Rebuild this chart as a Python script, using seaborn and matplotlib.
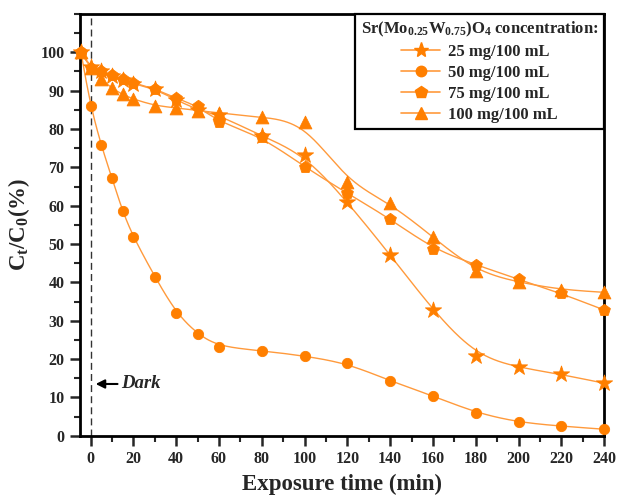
import numpy as np
import pandas as pd
import matplotlib
matplotlib.use("Agg")
import matplotlib.pyplot as plt
from matplotlib.lines import Line2D
from matplotlib.ticker import MultipleLocator
import seaborn as sns

# Exposure time (min); the first point is the initial solution before the dark step
time = [-4.5, 0, 5, 10, 15, 20, 30, 40, 50, 60, 80, 100, 120, 140, 160, 180, 200, 220, 240]

# C_t/C_0 (%) for each catalyst loading
c25 = [100, 96.2, 95.0, 93.9, 92.9, 91.8, 90.4, 87.6, 85.0, 83.6, 78.2, 73.3, 61.0, 47.2, 32.7, 20.9, 17.8, 16.0, 13.7]
c50 = [100, 86.0, 75.7, 67.2, 58.5, 51.8, 41.5, 32.0, 26.5, 23.2, 22.2, 20.8, 18.9, 14.3, 10.4, 6.0, 3.5, 2.5, 1.7]
c75 = [100, 96.0, 95.0, 94.0, 93.0, 92.0, 90.5, 88.0, 86.0, 81.8, 78.0, 70.1, 63.2, 56.6, 48.7, 44.6, 40.8, 37.1, 32.8]
c100 = [100, 96.0, 93.0, 90.6, 89.0, 87.8, 86.1, 85.5, 84.8, 84.2, 83.1, 81.7, 66.1, 60.7, 51.8, 42.9, 40.0, 38.1, 37.4]

labels = ["25 mg/100 mL", "50 mg/100 mL", "75 mg/100 mL", "100 mg/100 mL"]
series = [c25, c50, c75, c100]
markers = ["*", "o", "p", "^"]
sizes = [150, 55, 80, 85]

xticks = list(range(0, 241, 20))
yticks = list(range(0, 101, 10))

ORANGE = "#FF7F00"
LINE = "#FF9A3C"

sns.set_style("ticks")
plt.rcParams["font.family"] = ["Liberation Serif", "DejaVu Serif"]
plt.rcParams["font.weight"] = "bold"
plt.rcParams["mathtext.fontset"] = "custom"
plt.rcParams["mathtext.rm"] = "Liberation Serif:bold"
plt.rcParams["mathtext.it"] = "Liberation Serif:bold"
plt.rcParams["mathtext.bf"] = "Liberation Serif:bold"


def bspline(xs, ys, n=40):
    """Clamped uniform cubic B-spline using the data points as control points."""
    px = np.r_[[xs[0]] * 2, xs, [xs[-1]] * 2].astype(float)
    py = np.r_[[ys[0]] * 2, ys, [ys[-1]] * 2].astype(float)
    t = np.linspace(0, 1, n, endpoint=False)
    b0 = (1 - t) ** 3 / 6
    b1 = (3 * t**3 - 6 * t**2 + 4) / 6
    b2 = (-3 * t**3 + 3 * t**2 + 3 * t + 1) / 6
    b3 = t**3 / 6
    cx, cy = [], []
    for i in range(len(px) - 3):
        cx.append(b0 * px[i] + b1 * px[i + 1] + b2 * px[i + 2] + b3 * px[i + 3])
        cy.append(b0 * py[i] + b1 * py[i + 1] + b2 * py[i + 2] + b3 * py[i + 3])
    cx.append([xs[-1]])
    cy.append([ys[-1]])
    return np.concatenate(cx), np.concatenate(cy)


fig = plt.figure(figsize=(6.19, 4.98), dpi=100)
ax = fig.add_axes([0.129, 0.125, 0.847, 0.847])

for vals, lab, m, s in zip(series, labels, markers, sizes):
    sx, sy = bspline(np.array(time), np.array(vals))
    curve = pd.DataFrame({"t": sx, "c": sy})
    sns.lineplot(data=curve, x="t", y="c", ax=ax, color=LINE, lw=1.0,
                 sort=False, estimator=None, legend=False)
    pts = pd.DataFrame({"t": time, "c": vals})
    sns.scatterplot(data=pts, x="t", y="c", ax=ax, marker=m, s=s,
                    color=ORANGE, edgecolor=ORANGE, linewidth=0.6,
                    legend=False, zorder=3, clip_on=False)

# dark adsorption marker
ax.axvline(0, color="#333333", lw=1.0, ls=(0, (5, 3)), zorder=1)
ax.annotate("", xy=(2.4, 13.5), xytext=(12.6, 13.5),
            arrowprops=dict(arrowstyle="-|>", color="black", lw=1.5,
                            mutation_scale=13, shrinkA=0, shrinkB=0))
ax.text(14.3, 13.5, "Dark", fontsize=13.5, fontstyle="italic",
        fontweight="bold", va="center", ha="left")

ax.set_xlim(-5, 240)
ax.set_ylim(0, 110)
ax.set_xticks(xticks)
ax.set_yticks(yticks)
ax.xaxis.set_minor_locator(MultipleLocator(10))
ax.yaxis.set_minor_locator(MultipleLocator(5))
ax.tick_params(which="major", direction="out", length=7, width=1.8,
               labelsize=11.5, pad=4)
ax.tick_params(which="minor", direction="out", length=4, width=1.5)
for lbl in ax.get_xticklabels() + ax.get_yticklabels():
    lbl.set_fontweight("bold")
for sp in ax.spines.values():
    sp.set_visible(True)
    sp.set_linewidth(2.0)
    sp.set_color("black")

ax.set_xlabel("Exposure time (min)", fontsize=16.5, fontweight="bold", labelpad=5)
ax.set_ylabel(r"C$_\mathrm{t}$/C$_0$(%)", fontsize=16.5, fontweight="bold", labelpad=6)

handles = [Line2D([], [], color=LINE, lw=1.2, marker=m, markersize=ms,
                  markerfacecolor=ORANGE, markeredgecolor=ORANGE)
           for m, ms in zip(markers, [11, 7.5, 9, 9])]
leg = ax.legend(handles, labels, loc="upper right", bbox_to_anchor=(1.0, 1.0),
                borderaxespad=0, frameon=True, fancybox=False,
                title=r"Sr(Mo$_{0.25}$W$_{0.75}$)O$_4$ concentration:",
                prop={"size": 12, "weight": "bold"},
                title_fontproperties={"size": 12, "weight": "bold"},
                handlelength=2.3, handletextpad=0.5, labelspacing=0.3,
                borderpad=0.35, alignment="center")
leg.get_frame().set_edgecolor("black")
leg.get_frame().set_linewidth(1.6)
leg.get_frame().set_alpha(1)

fig.savefig("out.png", dpi=100)
